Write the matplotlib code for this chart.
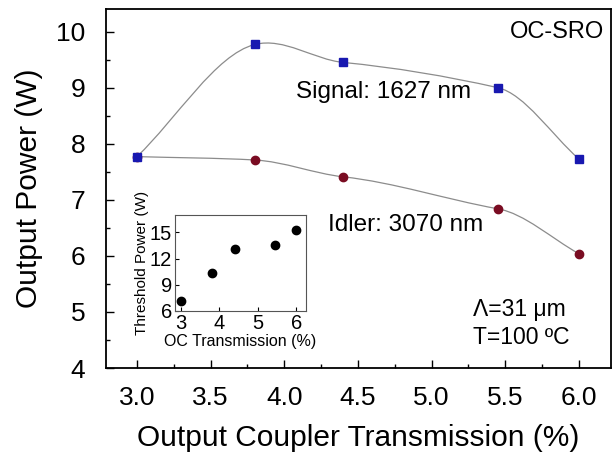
import numpy as np
import matplotlib
matplotlib.use("Agg")
import matplotlib.pyplot as plt
from matplotlib.path import Path
from matplotlib.patches import PathPatch
from matplotlib.ticker import MultipleLocator, FormatStrFormatter

plt.rcParams["font.family"] = ["Liberation Sans", "DejaVu Sans"]

# Output coupler transmission (%) and measured powers (W)
oc_trans = [3.0, 3.8, 4.4, 5.45, 6.0]
signal_power = [7.77, 9.77, 9.45, 9.0, 7.73]
idler_power = [7.77, 7.71, 7.41, 6.84, 6.04]

# OPO threshold vs OC transmission
thr_trans = [3.0, 3.8, 4.4, 5.45, 6.0]
thr_power = [7.1, 10.3, 13.1, 13.6, 15.3]


def smooth_path(x, y, tension=0.55):
    """Cubic Bezier path through the points (Hermite tangents in x)."""
    x = np.asarray(x, float)
    y = np.asarray(y, float)
    n = len(x)
    m = np.zeros(n)
    m[0] = (y[1] - y[0]) / (x[1] - x[0])
    m[-1] = (y[-1] - y[-2]) / (x[-1] - x[-2])
    for i in range(1, n - 1):
        m[i] = tension * (y[i + 1] - y[i - 1]) / (x[i + 1] - x[i - 1])
    verts = [(x[0], y[0])]
    codes = [Path.MOVETO]
    for i in range(n - 1):
        dx = (x[i + 1] - x[i]) / 3
        verts += [(x[i] + dx, y[i] + m[i] * dx),
                  (x[i + 1] - dx, y[i + 1] - m[i + 1] * dx),
                  (x[i + 1], y[i + 1])]
        codes += [Path.CURVE4] * 3
    return Path(verts, codes)


fig = plt.figure(figsize=(6.13, 4.58), dpi=100)
ax = fig.add_axes([0.173, 0.1965, 0.824, 0.7835])

for ys in (signal_power, idler_power):
    ax.add_patch(PathPatch(smooth_path(oc_trans, ys), facecolor="none",
                           edgecolor="#8c8c8c", lw=0.9, zorder=2))

ax.plot(oc_trans, idler_power, "o", color="#7a0c22", ms=6, zorder=3)
ax.plot(oc_trans, signal_power, "s", color="#1818b0", ms=5.5, zorder=4)

ax.set_xlim(2.79, 6.22)
ax.set_ylim(4, 10.4)
ax.xaxis.set_major_locator(MultipleLocator(0.5))
ax.xaxis.set_minor_locator(MultipleLocator(0.25))
ax.yaxis.set_major_locator(MultipleLocator(1))
ax.yaxis.set_minor_locator(MultipleLocator(0.5))
ax.xaxis.set_major_formatter(FormatStrFormatter("%.1f"))
ax.tick_params(which="both", direction="in", labelsize=19, width=1)
ax.tick_params(which="major", length=6)
ax.tick_params(which="minor", length=3)
ax.tick_params(axis="x", pad=13)
ax.tick_params(axis="y", pad=15)
for s in ax.spines.values():
    s.set_linewidth(1.3)

ax.set_xlabel("Output Coupler Transmission (%)", fontsize=21.5, labelpad=10)
ax.set_ylabel("Output Power (W)", fontsize=21.5, labelpad=9)

ax.text(6.17, 10.0, "OC-SRO", fontsize=17, ha="right", va="center")
ax.text(4.08, 8.93, "Signal: 1627 nm", fontsize=17.5, ha="left", va="center")
ax.text(4.30, 6.55, "Idler: 3070 nm", fontsize=17.5, ha="left", va="center")
ax.text(5.28, 5.04, "\u039b=31 \u03bcm", fontsize=16.5, ha="left", va="center")
ax.text(5.28, 4.55, "T=100 \u00baC", fontsize=16.5, ha="left", va="center")

# Threshold inset
ins = fig.add_axes([0.2855, 0.321, 0.2135, 0.2096])
ins.plot(thr_trans, thr_power, "o", color="black", ms=6)
ins.set_xlim(2.85, 6.25)
ins.set_ylim(6, 17)
ins.set_xticks([3, 4, 5, 6])
ins.set_yticks([6, 9, 12, 15])
ins.tick_params(direction="in", labelsize=14.5, length=3, pad=2)
for s in ins.spines.values():
    s.set_linewidth(0.8)
    s.set_color("#555555")
ins.set_xlabel("OC Transmission (%)", fontsize=11.5, labelpad=1)
ins.set_ylabel("Threshold Power (W)", fontsize=11, labelpad=1)

fig.savefig("out.png", dpi=100)
